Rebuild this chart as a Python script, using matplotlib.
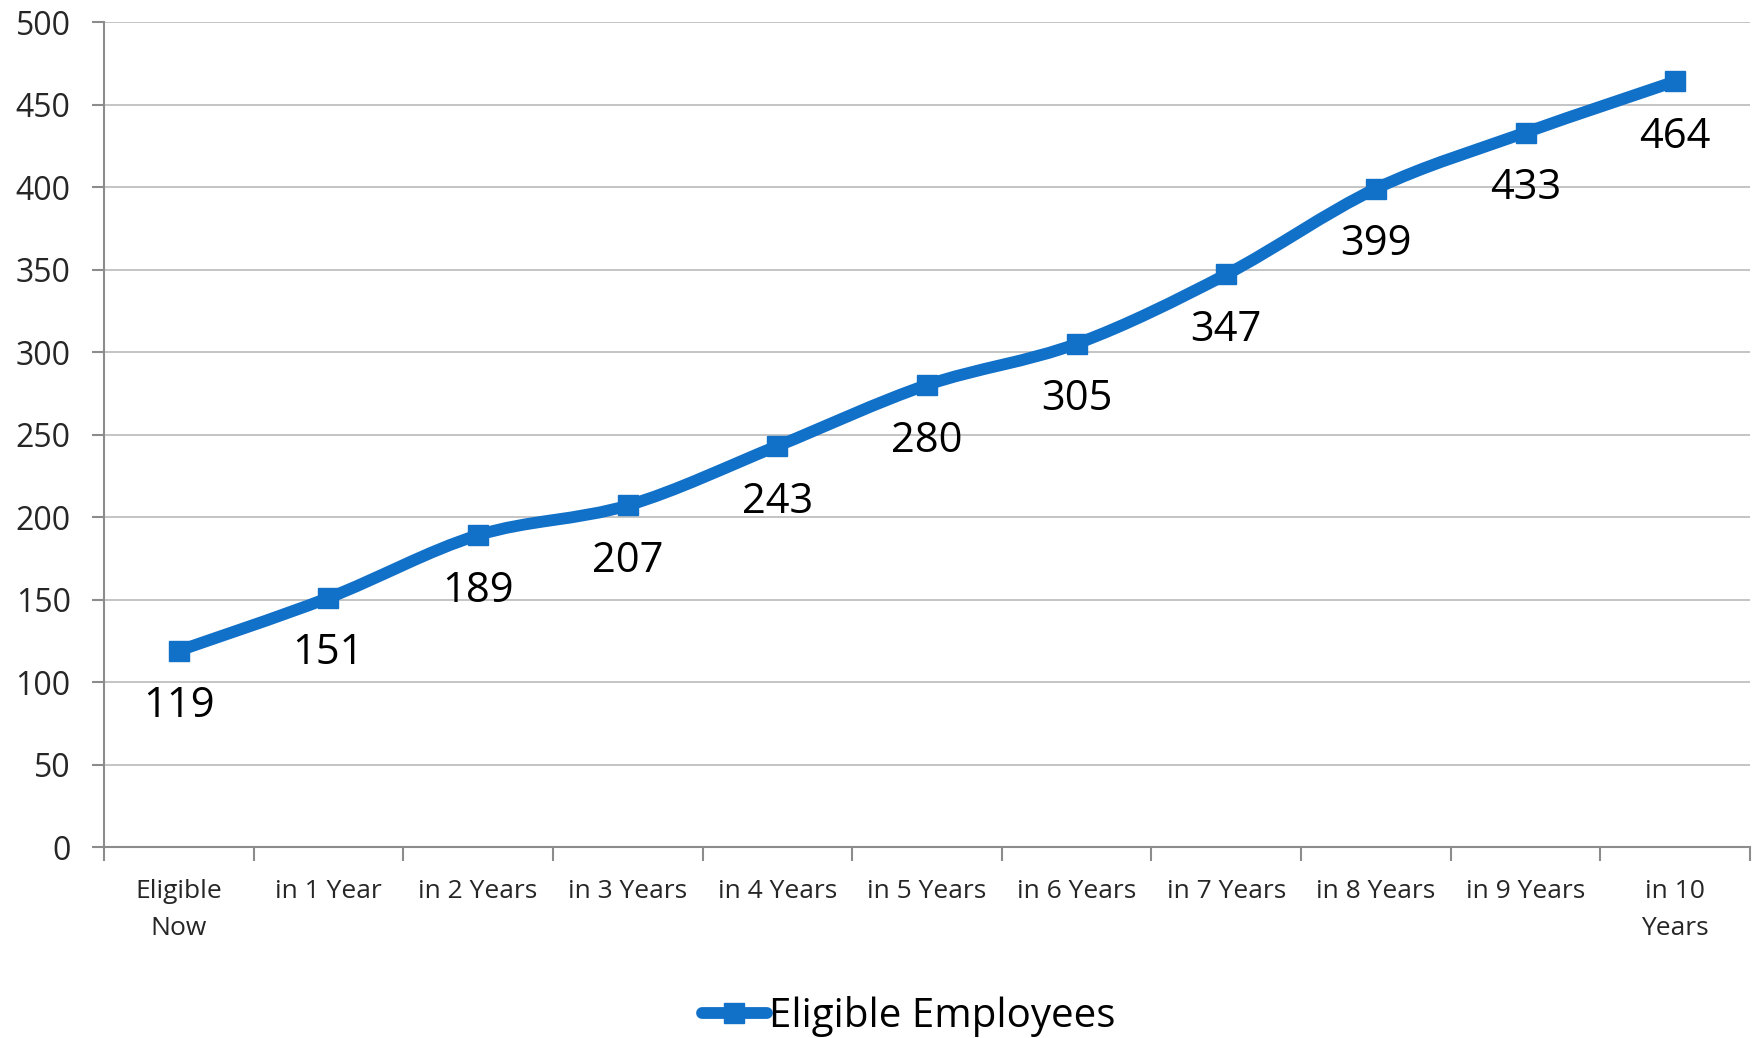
import numpy as np
import matplotlib.pyplot as plt
from matplotlib.path import Path
from matplotlib.patches import PathPatch
from matplotlib.lines import Line2D

plt.rcParams['font.family'] = ['Open Sans', 'DejaVu Sans']

categories = ['Eligible\nNow', 'in 1 Year', 'in 2 Years', 'in 3 Years', 'in 4 Years',
              'in 5 Years', 'in 6 Years', 'in 7 Years', 'in 8 Years', 'in 9 Years',
              'in 10\nYears']
employees = [119, 151, 189, 207, 243, 280, 305, 347, 399, 433, 464]
yticks = [0, 50, 100, 150, 200, 250, 300, 350, 400, 450, 500]

blue = '#1170C8'
grid_grey = '#BFBFBF'
axis_grey = '#8C8C8C'
text_col = '#262626'

fig = plt.figure(figsize=(17.54, 10.38), dpi=100)
ax = fig.add_axes([0.0593, 0.184, 0.9384, 0.7948])

x = np.arange(len(employees))
y = np.array(employees, dtype=float)

# smoothed line: cubic bezier segments with catmull-rom style control points
verts = [(x[0], y[0])]
codes = [Path.MOVETO]
n = len(x)
for i in range(n - 1):
    p0 = np.array([x[max(i - 1, 0)], y[max(i - 1, 0)]])
    p1 = np.array([x[i], y[i]])
    p2 = np.array([x[i + 1], y[i + 1]])
    p3 = np.array([x[min(i + 2, n - 1)], y[min(i + 2, n - 1)]])
    c1 = p1 + (p2 - p0) / 6
    c2 = p2 - (p3 - p1) / 6
    verts += [tuple(c1), tuple(c2), tuple(p2)]
    codes += [Path.CURVE4] * 3
ax.add_patch(PathPatch(Path(verts, codes), facecolor='none', edgecolor=blue,
                       lw=8.5, capstyle='round', joinstyle='round', zorder=3))
ax.plot(x, y, linestyle='none', marker='s', markersize=14, color=blue, zorder=4)

for xi, yi in zip(x, employees):
    ax.annotate(str(yi), (xi, yi), xytext=(0, -40), textcoords='offset points',
                ha='center', va='center', fontsize=30, color='black')

ax.set_xlim(-0.5, len(employees) - 0.5)
ax.set_ylim(0, 500)
ax.set_yticks(yticks)
ax.yaxis.grid(True, color=grid_grey, lw=1.3)
ax.set_axisbelow(True)

ax.set_xticks(x)
ax.set_xticklabels(categories, fontsize=19, linespacing=1.65)
ax.set_xticks(np.arange(-0.5, len(employees)), minor=True)
ax.tick_params(axis='x', which='major', length=0, pad=23)
ax.tick_params(axis='x', which='minor', length=10, width=1.5, color=axis_grey)
ax.tick_params(axis='y', length=9, width=1.5, color=axis_grey, pad=15, labelsize=23,
               labelcolor=text_col)
ax.tick_params(axis='x', labelcolor=text_col)

for side in ['top', 'right']:
    ax.spines[side].set_visible(False)
for side in ['left', 'bottom']:
    ax.spines[side].set_color(axis_grey)
    ax.spines[side].set_linewidth(1.5)

handle = Line2D([], [], color=blue, lw=8.5, marker='s', markersize=14,
                solid_capstyle='round')
fig.legend([handle], ['Eligible Employees'], loc='center', bbox_to_anchor=(0.518, 0.021),
           frameon=False, fontsize=29, handlelength=1.6, handletextpad=0.05)

fig.savefig('out.png', dpi=100)
